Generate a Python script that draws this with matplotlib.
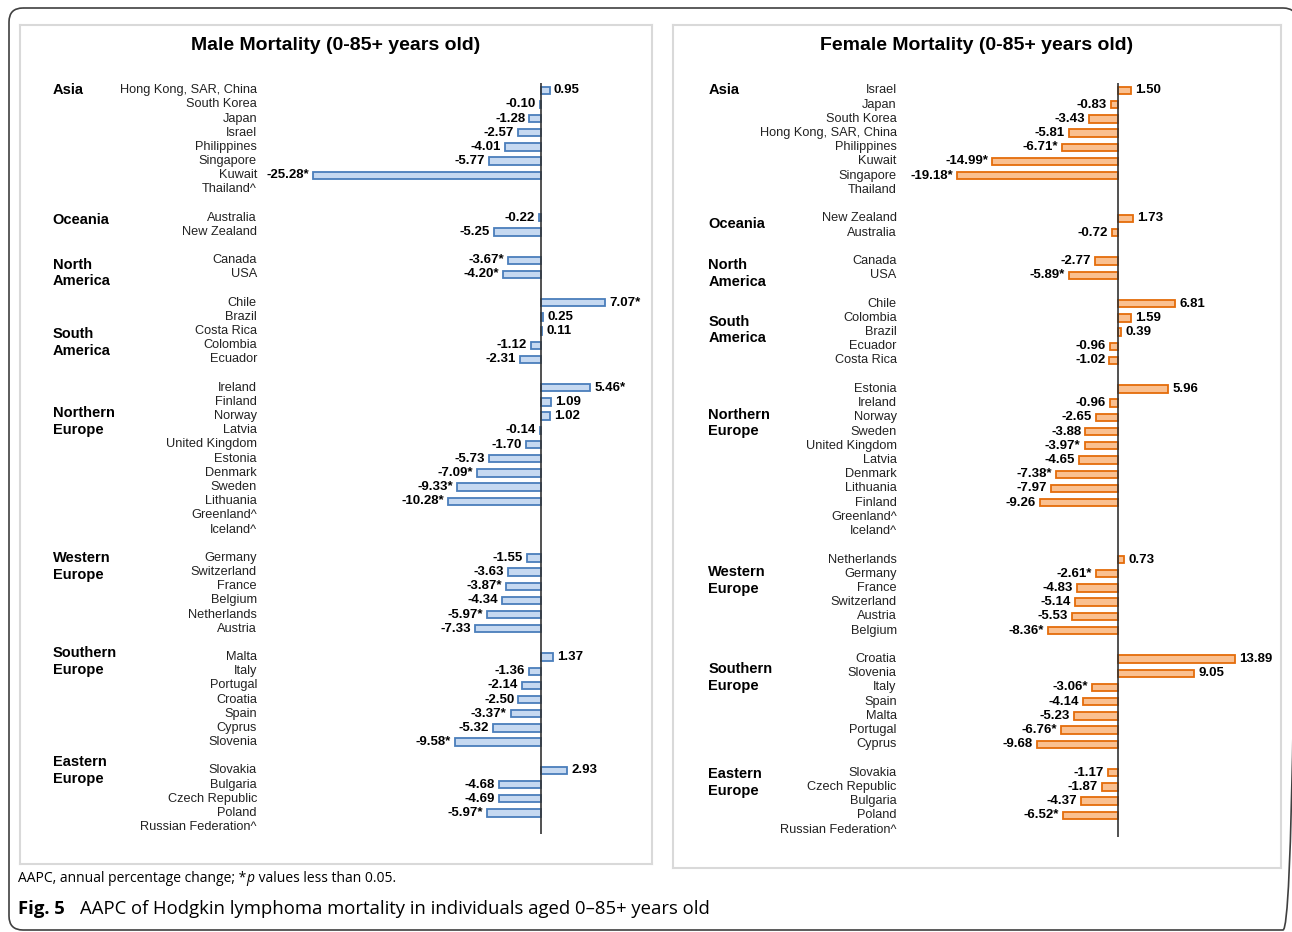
import matplotlib.pyplot as plt
from matplotlib.patches import FancyBboxPatch

# Region order is shared by both panels
regions = ["Asia", "Oceania", "North\nAmerica", "South\nAmerica", "Northern\nEurope",
           "Western\nEurope", "Southern\nEurope", "Eastern\nEurope"]

# Male AAPC (None = not estimable, marked with ^)
male_countries = [
    ["Hong Kong, SAR, China", "South Korea", "Japan", "Israel", "Philippines", "Singapore", "Kuwait", "Thailand^"],
    ["Australia", "New Zealand"],
    ["Canada", "USA"],
    ["Chile", "Brazil", "Costa Rica", "Colombia", "Ecuador"],
    ["Ireland", "Finland", "Norway", "Latvia", "United Kingdom", "Estonia", "Denmark", "Sweden", "Lithuania",
     "Greenland^", "Iceland^"],
    ["Germany", "Switzerland", "France", "Belgium", "Netherlands", "Austria"],
    ["Malta", "Italy", "Portugal", "Croatia", "Spain", "Cyprus", "Slovenia"],
    ["Slovakia", "Bulgaria", "Czech Republic", "Poland", "Russian Federation^"],
]
male_values = [
    [0.95, -0.10, -1.28, -2.57, -4.01, -5.77, -25.28, None],
    [-0.22, -5.25],
    [-3.67, -4.20],
    [7.07, 0.25, 0.11, -1.12, -2.31],
    [5.46, 1.09, 1.02, -0.14, -1.70, -5.73, -7.09, -9.33, -10.28, None, None],
    [-1.55, -3.63, -3.87, -4.34, -5.97, -7.33],
    [1.37, -1.36, -2.14, -2.50, -3.37, -5.32, -9.58],
    [2.93, -4.68, -4.69, -5.97, None],
]
male_sig = [
    [0, 0, 0, 0, 0, 0, 1, 0],
    [0, 0],
    [1, 1],
    [1, 0, 0, 0, 0],
    [1, 0, 0, 0, 0, 0, 1, 1, 1, 0, 0],
    [0, 0, 1, 0, 1, 0],
    [0, 0, 0, 0, 1, 0, 1],
    [0, 0, 0, 1, 0],
]

# Female AAPC
female_countries = [
    ["Israel", "Japan", "South Korea", "Hong Kong, SAR, China", "Philippines", "Kuwait", "Singapore", "Thailand"],
    ["New Zealand", "Australia"],
    ["Canada", "USA"],
    ["Chile", "Colombia", "Brazil", "Ecuador", "Costa Rica"],
    ["Estonia", "Ireland", "Norway", "Sweden", "United Kingdom", "Latvia", "Denmark", "Lithuania", "Finland",
     "Greenland^", "Iceland^"],
    ["Netherlands", "Germany", "France", "Switzerland", "Austria", "Belgium"],
    ["Croatia", "Slovenia", "Italy", "Spain", "Malta", "Portugal", "Cyprus"],
    ["Slovakia", "Czech Republic", "Bulgaria", "Poland", "Russian Federation^"],
]
female_values = [
    [1.50, -0.83, -3.43, -5.81, -6.71, -14.99, -19.18, None],
    [1.73, -0.72],
    [-2.77, -5.89],
    [6.81, 1.59, 0.39, -0.96, -1.02],
    [5.96, -0.96, -2.65, -3.88, -3.97, -4.65, -7.38, -7.97, -9.26, None, None],
    [0.73, -2.61, -4.83, -5.14, -5.53, -8.36],
    [13.89, 9.05, -3.06, -4.14, -5.23, -6.76, -9.68],
    [-1.17, -1.87, -4.37, -6.52, None],
]
female_sig = [
    [0, 0, 0, 0, 1, 1, 1, 0],
    [0, 0],
    [0, 1],
    [0, 0, 0, 0, 0],
    [0, 0, 0, 0, 1, 0, 1, 0, 0, 0, 0],
    [0, 1, 0, 0, 0, 1],
    [0, 0, 1, 0, 0, 1, 0],
    [0, 0, 0, 1, 0],
]

W, H = 1292, 932
SANS = ["Liberation Sans", "DejaVu Sans"]
CAPTION = ["Open Sans", "DejaVu Sans"]


def px_rect(x0, y0, x1, y1):
    return [x0 / W, 1 - y1 / H, (x1 - x0) / W, (y1 - y0) / H]


def draw_panel(ax, title, countries, values, sig, fill, edge, xlim, ylim,
               label_x, region_x, region_shift):
    row = 0
    for region, names, vals, flags, shift in zip(regions, countries, values, sig, region_shift):
        ax.text(region_x, row + shift, region, transform=ax.get_yaxis_transform(),
                ha="left", va="center", fontsize=10.5, fontweight="bold",
                family=SANS, linespacing=1.25)
        for name, v, s in zip(names, vals, flags):
            ax.text(label_x, row, name, transform=ax.get_yaxis_transform(),
                    ha="right", va="center", fontsize=9.2, family=SANS, color="#222222")
            if v is not None:
                ax.barh(row, v, height=0.52, color=fill, edgecolor=edge, linewidth=1.3, zorder=2)
                txt = f"{v:.2f}" + ("*" if s else "")
                ax.annotate(txt, (v, row), xytext=(3 if v >= 0 else -3, 0),
                            textcoords="offset points", ha="left" if v >= 0 else "right",
                            va="center", fontsize=9.5, fontweight="bold", family=SANS)
            row += 1
        row += 1
    ax.vlines(0, -0.5, row - 1.5, color="#333333", linewidth=1.2, zorder=3)
    ax.set_xlim(*xlim)
    ax.set_ylim(*ylim)
    ax.set_xticks([])
    ax.set_yticks([])
    for sp in ax.spines.values():
        sp.set_color("#d9d9d9")
        sp.set_linewidth(1.5)
    ax.text(0.5, 0.976, title, transform=ax.transAxes, ha="center", va="center",
            fontsize=14, fontweight="bold", family=SANS)


fig = plt.figure(figsize=(W / 100, H / 100), dpi=100)

# outer frame in pixel units; right edge runs off the page
bg = fig.add_axes([0, 0, 1, 1])
bg.set_xlim(0, W)
bg.set_ylim(H, 0)
bg.axis("off")
bg.add_patch(FancyBboxPatch((9, 8), 1288, 922, boxstyle="round,pad=0,rounding_size=14",
                            fc="none", ec="#404040", lw=1.2))

ax_m = fig.add_axes(px_rect(20, 25, 652, 864))
draw_panel(ax_m, "Male Mortality (0-85+ years old)", male_countries, male_values, male_sig,
           "#c6d9f1", "#4a7ebb", (-57.76, 12.31), (54.6, -4.6),
           0.375, 0.052, [0, 0.17, 0.9, 2.8, 2.4, 0.6, 0.3, 0])

ax_f = fig.add_axes(px_rect(673, 25, 1281, 868))
draw_panel(ax_f, "Female Mortality (0-85+ years old)", female_countries, female_values, female_sig,
           "#fac090", "#e46c0a", (-52.98, 19.40), (54.7, -4.6),
           0.368, 0.058, [0, 0.4, 0.9, 1.85, 2.4, 1.5, 1.3, 0.7])

# footnote, with an italic p
t1 = fig.text(18 / W, 1 - 882 / H, "AAPC, annual percentage change; *", fontsize=10,
              family=CAPTION, ha="left", va="baseline")
t2 = fig.text(0, 0, "p", fontsize=10, family=CAPTION, style="italic", ha="left", va="baseline")
t3 = fig.text(0, 0, " values less than 0.05.", fontsize=10, family=CAPTION, ha="left", va="baseline")
fig.canvas.draw()
r = fig.canvas.get_renderer()
x = t1.get_window_extent(r).x1
t2.set_position((x / W, t1.get_position()[1]))
x = t2.get_window_extent(r).x1 + 1
t3.set_position((x / W, t1.get_position()[1]))

fig.text(18 / W, 1 - 914 / H, "Fig. 5", fontsize=13.3, fontweight="bold",
         family=CAPTION, ha="left", va="baseline")
fig.text(80 / W, 1 - 914 / H, "AAPC of Hodgkin lymphoma mortality in individuals aged 0\u201385+ years old",
         fontsize=13.3, family=CAPTION, ha="left", va="baseline")

fig.savefig("out.png", dpi=100)
